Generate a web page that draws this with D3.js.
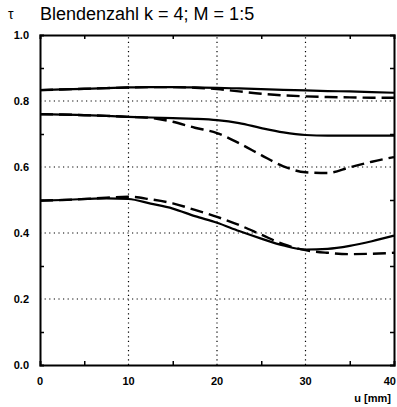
<!DOCTYPE html>
<html>
<head>
<meta charset="utf-8">
<script src="https://cdn.jsdelivr.net/npm/d3@7"></script>
<style>
  body { margin: 0; background: #fff; }
  text { font-family: "Liberation Sans", Arial, sans-serif; }
</style>
</head>
<body>
<div id="container"></div>
<script>
/* CONSTANTS AND GLOBALS */
const width = 397,
  height = 407;
const margin = { top: 35, right: 3, bottom: 42, left: 40 };

/* DATA */
const uValues = [0, 2.5, 5, 7.5, 10, 12.5, 15, 17.5, 20, 22.5, 25, 27.5, 30, 32.5, 35, 37.5, 40];

const top_solid  = [0.833, 0.835, 0.837, 0.839, 0.841, 0.842, 0.842, 0.841, 0.840, 0.838, 0.836, 0.834, 0.832, 0.830, 0.829, 0.827, 0.825];
const top_dashed = [0.833, 0.835, 0.837, 0.839, 0.841, 0.842, 0.842, 0.840, 0.836, 0.829, 0.822, 0.817, 0.814, 0.812, 0.811, 0.810, 0.810];

const mid_solid  = [0.760, 0.759, 0.757, 0.755, 0.752, 0.750, 0.748, 0.746, 0.742, 0.733, 0.718, 0.705, 0.697, 0.695, 0.695, 0.695, 0.695];
const mid_dashed = [0.760, 0.759, 0.757, 0.755, 0.752, 0.749, 0.737, 0.719, 0.703, 0.672, 0.636, 0.602, 0.584, 0.582, 0.599, 0.616, 0.630];

const low_solid  = [0.498, 0.500, 0.503, 0.505, 0.503, 0.489, 0.474, 0.451, 0.431, 0.406, 0.383, 0.362, 0.350, 0.352, 0.361, 0.375, 0.392];
const low_dashed = [0.498, 0.500, 0.503, 0.507, 0.510, 0.502, 0.490, 0.470, 0.449, 0.424, 0.395, 0.366, 0.348, 0.340, 0.336, 0.337, 0.340];

const xTicks = [0, 10, 20, 30, 40];
const yTicks = [0.0, 0.2, 0.4, 0.6, 0.8, 1.0];
const xMinor = [5, 15, 25, 35];
const yMinor = [0.1, 0.3, 0.5, 0.7, 0.9];

const series = [
  { values: top_solid, dashed: false },
  { values: top_dashed, dashed: true },
  { values: mid_solid, dashed: false },
  { values: mid_dashed, dashed: true },
  { values: low_solid, dashed: false },
  { values: low_dashed, dashed: true }
];

// SCALES
const xScale = d3.scaleLinear()
  .domain([0, 40])
  .range([margin.left, width - margin.right]);

const yScale = d3.scaleLinear()
  .domain([0, 1])
  .range([height - margin.bottom, margin.top]);

// CREATE SVG ELEMENT
const svg = d3.select("#container")
  .append("svg")
  .attr("width", width)
  .attr("height", height);

// GRID (dotted)
svg.append('g')
  .selectAll('line')
  .data(yTicks.filter(d => d > 0 && d < 1))
  .join('line')
  .attr('x1', xScale(0))
  .attr('x2', xScale(40))
  .attr('y1', d => yScale(d))
  .attr('y2', d => yScale(d))
  .attr('stroke', '#000')
  .attr('stroke-width', 1.2)
  .attr('stroke-dasharray', '1.2,3.4');

svg.append('g')
  .selectAll('line')
  .data(xTicks.filter(d => d > 0 && d < 40))
  .join('line')
  .attr('x1', d => xScale(d))
  .attr('x2', d => xScale(d))
  .attr('y1', yScale(0))
  .attr('y2', yScale(1))
  .attr('stroke', '#000')
  .attr('stroke-width', 1.2)
  .attr('stroke-dasharray', '1.2,3.4');

// AXES (frame with inward ticks)
const xAxisBottom = d3.axisBottom(xScale).tickValues(xMinor).tickSize(-4).tickFormat('');
const xAxisTop = d3.axisTop(xScale).tickValues(xMinor).tickSize(-4).tickFormat('');
const yAxisLeft = d3.axisLeft(yScale).tickValues(yMinor).tickSize(-4).tickFormat('');
const yAxisRight = d3.axisRight(yScale).tickValues(yMinor).tickSize(-4).tickFormat('');

svg.append('g').attr('transform', `translate(0, ${yScale(0)})`).call(xAxisBottom);
svg.append('g').attr('transform', `translate(0, ${yScale(1)})`).call(xAxisTop);
svg.append('g').attr('transform', `translate(${xScale(0)}, 0)`).call(yAxisLeft);
svg.append('g').attr('transform', `translate(${xScale(40)}, 0)`).call(yAxisRight);

svg.selectAll('.domain').attr('stroke-width', 2);
svg.selectAll('.tick line').attr('stroke-width', 1.5);

// TICK LABELS
svg.append('g')
  .selectAll('text')
  .data(xTicks)
  .join('text')
  .attr('x', d => d === 40 ? width - 1 : xScale(d))
  .attr('y', 385)
  .attr('text-anchor', d => d === 40 ? 'end' : 'middle')
  .attr('font-size', 11)
  .attr('font-weight', 'bold')
  .text(d => d);

svg.append('g')
  .selectAll('text')
  .data(yTicks)
  .join('text')
  .attr('x', 29)
  .attr('y', d => yScale(d))
  .attr('dy', '0.35em')
  .attr('text-anchor', 'end')
  .attr('font-size', 11)
  .attr('font-weight', 'bold')
  .text(d => d.toFixed(1));

// AXIS TITLES
svg.append('text')
  .attr('x', 391)
  .attr('y', 402)
  .attr('text-anchor', 'end')
  .attr('font-size', 11)
  .attr('font-weight', 'bold')
  .text('u [mm]');

svg.append('text')
  .attr('x', 8)
  .attr('y', 19)
  .attr('font-size', 14)
  .text('τ');

svg.append('text')
  .attr('x', 40)
  .attr('y', 20)
  .attr('font-size', 18)
  .text('Blendenzahl k = 4; M = 1:5');

// LINE GENERATOR
const lineGen = d3.line()
  .x(d => xScale(d[0]))
  .y(d => yScale(d[1]))
  .curve(d3.curveMonotoneX);

// DRAW LINES (dashed first so solid sits on top)
svg.append('g')
  .selectAll('path')
  .data(series.filter(s => s.dashed).concat(series.filter(s => !s.dashed)))
  .join('path')
  .attr('d', s => lineGen(uValues.map((u, i) => [u, s.values[i]])))
  .attr('fill', 'none')
  .attr('stroke', '#000')
  .attr('stroke-width', s => s.dashed ? 2.4 : 2.2)
  .attr('stroke-dasharray', s => s.dashed ? '13,6' : null);
</script>
</body>
</html>
